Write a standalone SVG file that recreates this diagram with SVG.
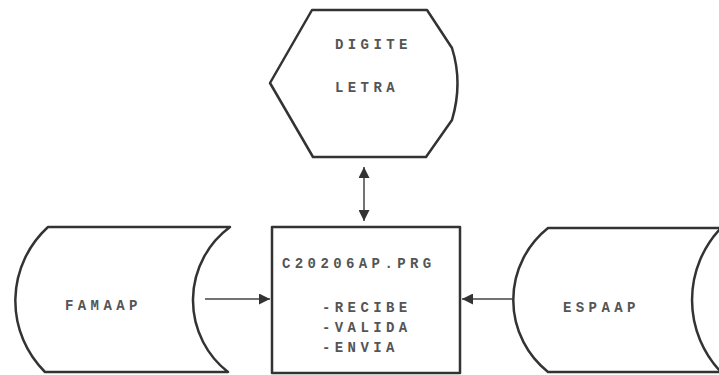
<svg xmlns="http://www.w3.org/2000/svg" width="719" height="375" viewBox="0 0 719 375">
<defs>
<style>
.shape{fill:#fff;stroke:#333;stroke-width:2.5;stroke-linejoin:round}
.conn{stroke:#444;stroke-width:1.5;fill:none}
.t{font-family:"Liberation Mono","DejaVu Sans Mono",monospace;font-size:14px;font-weight:bold;fill:#555;letter-spacing:4.4px}
</style>
<marker id="ah" viewBox="0 0 10 10" refX="10" refY="5" markerWidth="14" markerHeight="11" markerUnits="userSpaceOnUse" orient="auto-start-reverse">
<path d="M0,0 L10,5 L0,10 Z" fill="#333"/>
</marker>
</defs>
<rect width="719" height="375" fill="#fff"/>
<g id="digite">
<path class="shape" d="M312,10 L427,10 L452,48 Q463,83 452,120 L426,157 L313,157 L270,83 Z"/>
<text class="t" x="335" y="49">DIGITE</text>
<text class="t" x="335" y="92">LETRA</text>
</g>
<g id="c20206ap">
<rect class="shape" x="272" y="227" width="188" height="146"/>
<text class="t" x="282" y="268">C20206AP.PRG</text>
<text class="t" x="322" y="312">-RECIBE</text>
<text class="t" x="322" y="332">-VALIDA</text>
<text class="t" x="322" y="352">-ENVIA</text>
</g>
<g id="famaap">
<path class="shape" d="M48,227 L230,227 A91,91 0 0 0 228,372 L45,372 A100,100 0 0 1 48,227 Z"/>
<text class="t" x="65" y="310">FAMAAP</text>
</g>
<g id="espaap">
<path class="shape" d="M548,228 L725,228 L725,372 L548,372 A92,92 0 0 1 548,228 Z"/>
<path class="shape" style="fill:none" d="M721,228 A104,104 0 0 0 721,372"/>
<text class="t" x="563" y="312">ESPAAP</text>
</g>
<g id="connectors">
<line class="conn" x1="364" y1="167" x2="364" y2="221" marker-start="url(#ah)" marker-end="url(#ah)"/>
<line class="conn" x1="205" y1="299" x2="270" y2="299" marker-end="url(#ah)"/>
<line class="conn" x1="513" y1="299" x2="462" y2="299" marker-end="url(#ah)"/>
</g>
</svg>
